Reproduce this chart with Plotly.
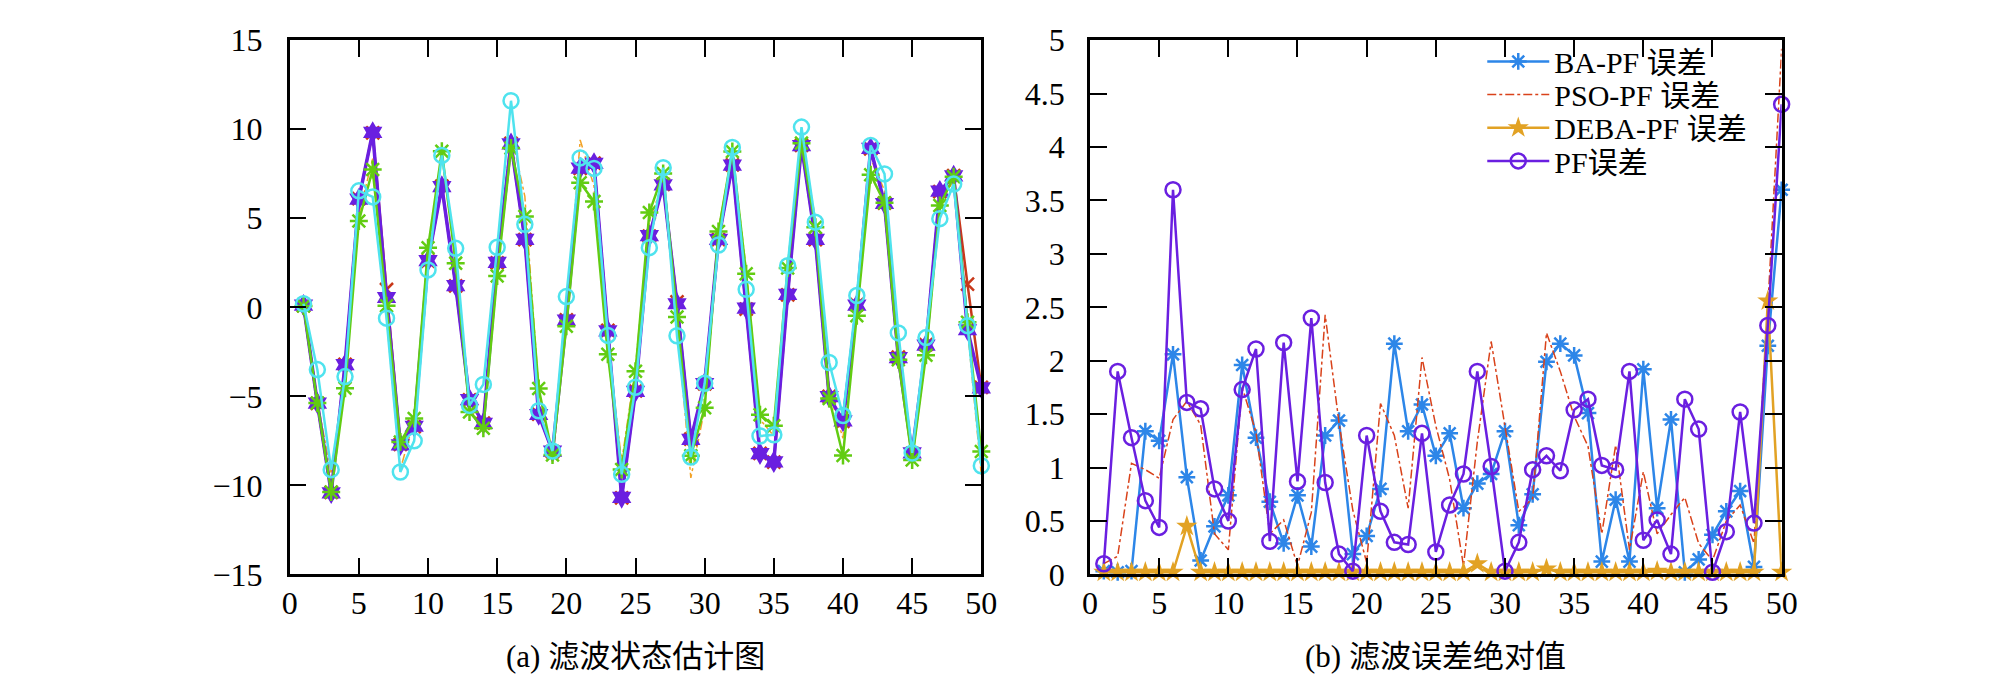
import plotly.graph_objects as go

k = list(range(1, 51))

# ---- left panel: state estimates ----
true_state = [0.1, -5.4, -10.4, -3.2, 6.1, 9.8, 1.0, -7.7, -6.7, 2.6,
              6.8, 1.2, -5.2, -6.5, 2.5, 9.2, 3.8, -6.0, -8.1, -0.7,
              7.8, 8.1, -1.3, -10.7, -4.7, 4.0, 6.9, 0.3, -7.4, -4.3,
              3.8, 8.0, -0.1, -8.2, -8.7, 0.7, 9.1, 3.8, -5.0, -6.4,
              0.15, 8.9, 5.85, -2.8, -8.2, -2.1, 6.5, 7.4, 1.3, -4.5]

deba_est = [0.12, -5.38, -10.42, -3.22, 6.08, 9.82, 0.55, -7.72, -6.68, 2.62,
            6.78, 1.22, -5.18, -6.52, 2.52, 9.18, 3.82, -6.02, -8.08, -0.72,
            7.82, 8.08, -1.32, -10.68, -4.72, 4.02, 6.88, 0.2, -7.42, -4.28,
            3.82, 7.98, -0.05, -8.22, -8.68, 0.72, 9.08, 3.82, -5.02, -6.38,
            0.12, 8.92, 5.83, -2.82, -8.18, -2.12, 6.52, 7.38, -1.26, -4.52]

ba_est = [0.07, -5.38, -10.37, -4.54, 4.85, 7.74, 0.09, -7.57, -6.25, 3.34,
          8.76, 2.48, -5.88, -6.79, 1.76, 8.94, 5.1, -4.56, -8.29, -1.06,
          7.0, 5.94, -2.64, -9.11, -3.59, 5.32, 7.52, -0.55, -8.34, -5.64,
          4.26, 8.75, 1.89, -6.04, -6.65, 2.21, 9.22, 4.5, -5.12, -8.32,
          -0.47, 7.45, 5.87, -2.94, -8.57, -2.69, 5.72, 7.33, -0.84, -8.1]

pf_est = [0.2, -3.5, -9.12, -3.89, 6.54, 6.2, -0.61, -9.25, -7.5, 2.1,
          8.53, 3.31, -5.51, -4.33, 3.37, 11.6, 4.66, -5.81, -8.07, 0.6,
          8.39, 7.8, -1.58, -9.38, -4.49, 3.35, 7.84, -1.6, -8.41, -4.27,
          3.5, 8.98, 1.01, -7.23, -7.16, 2.34, 10.12, 4.78, -3.1, -6.08,
          0.66, 9.09, 7.49, -1.44, -8.18, -1.7, 4.98, 6.92, -1.03, -8.9]

pso_est = [0.2, -5.23, -9.36, -4.18, 5.2, 8.35, -0.62, -9.1, -6.32, 2.83,
           8.55, 2.53, -5.58, -7.01, 2.58, 9.78, 6.23, -4.58, -8.7, -0.81,
           9.4, 6.8, -1.92, -8.67, -3.31, 4.89, 6.98, -0.94, -9.58, -5.69,
           4.39, 8.71, 2.16, -6.3, -7.22, 1.9, 9.48, 5.01, -4.77, -7.36,
           0.53, 8.34, 6.57, -3.09, -8.33, -2.6, 5.85, 7.11, -1.2, -9.42]

# ---- right panel: absolute errors ----
ba_err = [0.03, 0.02, 0.03, 1.34, 1.25, 2.06, 0.91, 0.13, 0.45, 0.74,
          1.96, 1.28, 0.68, 0.29, 0.74, 0.26, 1.3, 1.44, 0.19, 0.36,
          0.8, 2.16, 1.34, 1.59, 1.11, 1.32, 0.62, 0.85, 0.94, 1.34,
          0.46, 0.75, 1.99, 2.16, 2.05, 1.51, 0.12, 0.7, 0.12, 1.92,
          0.62, 1.45, 0.02, 0.14, 0.37, 0.59, 0.78, 0.07, 2.14, 3.6]

pso_err = [0.1, 0.17, 1.04, 0.98, 0.9, 1.45, 1.62, 1.4, 0.38, 0.23,
           1.75, 1.33, 0.38, 0.51, 0.08, 0.58, 2.43, 1.42, 0.6, 0.11,
           1.6, 1.3, 0.62, 2.03, 1.39, 0.89, 0.08, 1.24, 2.18, 1.39,
           0.59, 0.71, 2.26, 1.9, 1.48, 1.2, 0.38, 1.21, 0.23, 0.96,
           0.38, 0.56, 0.72, 0.29, 0.13, 0.5, 0.65, 0.29, 2.5, 4.92]

deba_err = [0.02, 0.02, 0.02, 0.02, 0.02, 0.02, 0.45, 0.02, 0.02, 0.02,
            0.02, 0.02, 0.02, 0.02, 0.02, 0.02, 0.02, 0.02, 0.02, 0.02,
            0.02, 0.02, 0.02, 0.02, 0.02, 0.02, 0.02, 0.10, 0.02, 0.02,
            0.02, 0.02, 0.05, 0.02, 0.02, 0.02, 0.02, 0.02, 0.02, 0.02,
            0.03, 0.02, 0.02, 0.02, 0.02, 0.02, 0.02, 0.02, 2.56, 0.02]

pf_err = [0.1, 1.9, 1.28, 0.69, 0.44, 3.6, 1.61, 1.55, 0.8, 0.5,
          1.73, 2.11, 0.31, 2.17, 0.87, 2.4, 0.86, 0.19, 0.03, 1.3,
          0.59, 0.3, 0.28, 1.32, 0.21, 0.65, 0.94, 1.9, 1.01, 0.03,
          0.3, 0.98, 1.11, 0.97, 1.54, 1.64, 1.02, 0.98, 1.9, 0.32,
          0.51, 0.19, 1.64, 1.36, 0.02, 0.4, 1.52, 0.48, 2.33, 4.4]

legend_names = ["BA-PF 误差", "PSO-PF 误差", "DEBA-PF 误差", "PF误差"]
captions = ["(a) 滤波状态估计图", "(b) 滤波误差绝对值"]

SERIF = '"Liberation Serif", "Times New Roman", serif'
SERIF_CJK = '"Liberation Serif", "Times New Roman", "Noto Sans CJK SC", serif'

fig = go.Figure()

# left panel traces
fig.add_trace(go.Scatter(x=k, y=pso_est, mode="lines", xaxis="x", yaxis="y",
                         line=dict(color="#f2a227", width=1.5, dash="dashdot"),
                         showlegend=False, cliponaxis=False))
fig.add_trace(go.Scatter(x=k, y=true_state, mode="lines+markers", xaxis="x", yaxis="y",
                         line=dict(color="#c8381a", width=2.5),
                         marker=dict(symbol="x-thin-open", size=13, color="#c8381a",
                                     line=dict(width=2.5, color="#c8381a")),
                         showlegend=False, cliponaxis=False))
fig.add_trace(go.Scatter(x=k, y=deba_est, mode="lines+markers", xaxis="x", yaxis="y",
                         line=dict(color="#6a1fe0", width=3.5),
                         marker=dict(symbol="hexagram", size=17, color="#6a1fe0",
                                     line=dict(width=0)),
                         showlegend=False, cliponaxis=False))
fig.add_trace(go.Scatter(x=k, y=ba_est, mode="lines+markers", xaxis="x", yaxis="y",
                         line=dict(color="#62cc12", width=2.5),
                         marker=dict(symbol="asterisk-open", size=15, color="#62cc12",
                                     line=dict(width=2.5, color="#62cc12")),
                         showlegend=False, cliponaxis=False))
fig.add_trace(go.Scatter(x=k, y=pf_est, mode="lines+markers", xaxis="x", yaxis="y",
                         line=dict(color="#4fe3ee", width=2.5),
                         marker=dict(symbol="circle-open", size=15, color="#4fe3ee",
                                     line=dict(width=2.5, color="#4fe3ee")),
                         showlegend=False, cliponaxis=False))

# right panel traces (each in its own legend box so rows can be spaced like the original)
fig.add_trace(go.Scatter(x=k, y=ba_err, mode="lines+markers", xaxis="x2", yaxis="y2",
                         name=legend_names[0], legend="legend",
                         line=dict(color="#2d86e8", width=2.5),
                         marker=dict(symbol="asterisk-open", size=14, color="#2d86e8",
                                     line=dict(width=2.5, color="#2d86e8")),
                         cliponaxis=False))
fig.add_trace(go.Scatter(x=k, y=pso_err, mode="lines", xaxis="x2", yaxis="y2",
                         name=legend_names[1], legend="legend2",
                         line=dict(color="#d9421a", width=1.5, dash="dashdot"),
                         cliponaxis=False))
fig.add_trace(go.Scatter(x=k, y=deba_err, mode="lines+markers", xaxis="x2", yaxis="y2",
                         name=legend_names[2], legend="legend3",
                         line=dict(color="#e2a224", width=2.5),
                         marker=dict(symbol="star", size=16, color="#e2a224",
                                     line=dict(width=0)),
                         cliponaxis=False))
fig.add_trace(go.Scatter(x=k, y=pf_err, mode="lines+markers", xaxis="x2", yaxis="y2",
                         name=legend_names[3], legend="legend4",
                         line=dict(color="#6a1fe0", width=2.5),
                         marker=dict(symbol="circle-open", size=15, color="#6a1fe0",
                                     line=dict(width=2.5, color="#6a1fe0")),
                         cliponaxis=False))

W, H = 2008, 681


def axis_style(standoff):
    return dict(showline=True, linecolor="black", linewidth=2.5, mirror="ticks",
                ticks="inside", ticklen=17, tickwidth=2, tickcolor="black",
                showgrid=False, zeroline=False,
                tickfont=dict(family=SERIF, size=32, color="black"),
                ticklabelstandoff=standoff, ticklabeloverflow="allow")


def legend_box(row):
    return dict(x=1484 / W, y=1 - (10 + 35 * row) / H, xanchor="left", yanchor="top",
                bgcolor="rgba(0,0,0,0)", borderwidth=0,
                font=dict(family=SERIF_CJK, size=30, color="black"),
                itemwidth=62)


fig.update_layout(
    width=W, height=H,
    margin=dict(l=0, r=0, t=0, b=0),
    paper_bgcolor="white", plot_bgcolor="white",
    xaxis=dict(domain=[277 / W, 977 / W], range=[0, 50], dtick=5, anchor="y", **axis_style(-2)),
    yaxis=dict(domain=[1 - 579 / H, 1 - 15 / H], range=[-15, 15], dtick=5, anchor="x", **axis_style(18)),
    xaxis2=dict(domain=[1087 / W, 1787 / W], range=[0, 50], dtick=5, anchor="y2", **axis_style(-2)),
    yaxis2=dict(domain=[1 - 579 / H, 1 - 15 / H], range=[0, 5], dtick=0.5, anchor="x2", **axis_style(16)),
    legend=legend_box(0),
    legend2=legend_box(1),
    legend3=legend_box(2),
    legend4=legend_box(3),
    annotations=[
        dict(text=captions[0], x=627 / W, y=1 - 666 / H, xref="paper", yref="paper",
             showarrow=False, xanchor="center", yanchor="middle",
             font=dict(family=SERIF_CJK, size=31, color="black")),
        dict(text=captions[1], x=1437 / W, y=1 - 666 / H, xref="paper", yref="paper",
             showarrow=False, xanchor="center", yanchor="middle",
             font=dict(family=SERIF_CJK, size=31, color="black")),
    ],
)

fig.write_html("out.html")
